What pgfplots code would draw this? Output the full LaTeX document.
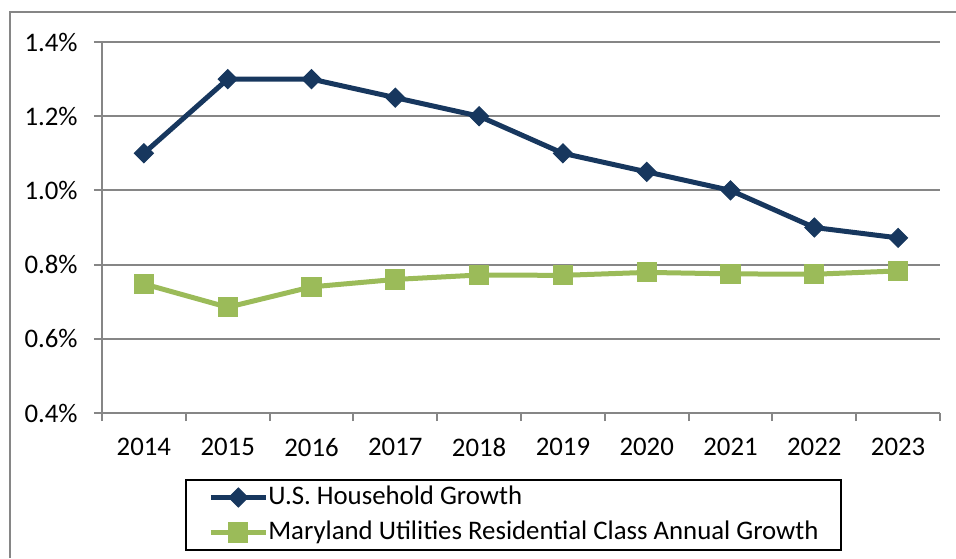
\documentclass[border=0pt]{standalone}
\usepackage{pgfplots}
\pgfplotsset{compat=1.18}
\usepackage{fontspec}
\setmainfont{Carlito}
\definecolor{usblue}{HTML}{17375E}
\definecolor{mdgreen}{HTML}{9BBB59}
\definecolor{gridgray}{HTML}{868686}
\begin{document}
\fontsize{13.4}{16}\selectfont
\begin{tikzpicture}
\path[use as bounding box] (0,0) rectangle (478pt,279pt);
\draw[gridgray, line width=1pt] (5pt,0) -- (5pt,273pt) -- (478pt,273pt);
\begin{axis}[
  at={(51pt,72.5pt)}, anchor=south west,
  scale only axis, width=419pt, height=185.5pt,
  xmin=-0.5, xmax=9.5, ymin=0.4, ymax=1.4,
  axis x line*=bottom, axis y line*=left,
  axis line style={gridgray, line width=1pt, -},
  xtick={0,...,9},
  xticklabels={2014,2015,2016,2017,2018,2019,2020,2021,2022,2023},
  minor xtick={-0.5,0.5,...,9.5},
  major x tick style={draw=none},
  minor tick length=4pt,
  ytick={0.4,0.6,...,1.4},
  yticklabels={0.4\%,0.6\%,0.8\%,1.0\%,1.2\%,1.4\%},
  major tick length=4pt,
  tick align=outside,
  tick style={gridgray, line width=1pt},
  ymajorgrids, grid style={gridgray, line width=1pt},
  tick label style={font=\fontsize{13.4}{16}\selectfont},
  yticklabel style={inner sep=0pt, xshift=-8pt},
  xticklabel style={inner sep=0pt, yshift=-8.5pt},
  legend style={at={(0.491,-0.275)}, anchor=center, draw=black, line width=1pt,
    font=\fontsize{13.4}{16}\selectfont,
    inner xsep=11pt, inner ysep=2.5pt, row sep=5pt,
    nodes={inner sep=0pt, text height=9.5pt, text depth=3pt}},
  legend cell align=left,
  legend image code/.code={\draw[mark repeat=2,mark phase=2,#1] plot coordinates {(0pt,0pt) (13.75pt,0pt) (27.5pt,0pt)};},
]
\addplot[usblue, line width=2.5pt, mark=square*, mark size=3.36pt, mark options={rotate=45, line width=0.5pt}]
  coordinates {(0,1.10) (1,1.30) (2,1.30) (3,1.25) (4,1.20) (5,1.10) (6,1.05) (7,1.00) (8,0.90) (9,0.872)};
\addlegendentry{U.S. Household Growth}
\addplot[mdgreen, line width=2.5pt, mark=square*, mark size=4.8pt, mark options={line width=0.5pt}]
  coordinates {(0,0.748) (1,0.685) (2,0.740) (3,0.760) (4,0.772) (5,0.771) (6,0.779) (7,0.775) (8,0.774) (9,0.783)};
\addlegendentry{Maryland Utilities Residential Class Annual Growth}
\end{axis}
\end{tikzpicture}
\end{document}
